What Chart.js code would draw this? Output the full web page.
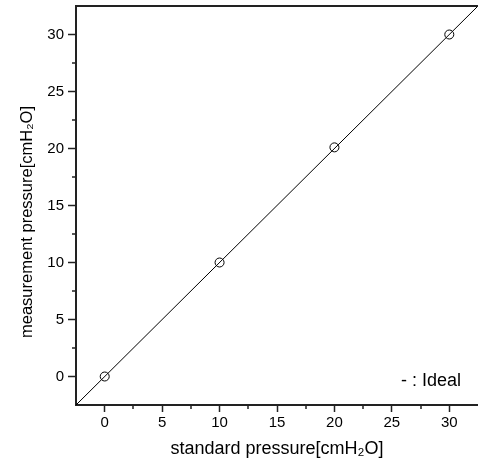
<!DOCTYPE html>
<html>
<head>
<meta charset="utf-8">
<script src="https://cdn.jsdelivr.net/npm/chart.js@4.4.1/dist/chart.umd.min.js"></script>
<style>
  html, body { margin: 0; padding: 0; background: #fff; }
  canvas { display: block; }
</style>
</head>
<body>
<canvas id="chart" width="478" height="462"></canvas>
<script>
// values
const standardPressure = [0, 10, 20, 30];
const measuredPressure = [0, 10, 20.1, 30];
const idealX = [-2.5, 32.5];
const idealY = [-2.5, 32.5];
const axisMin = -2.5;
const axisMax = 32.5;
const majorTicks = [0, 5, 10, 15, 20, 25, 30];
const minorTicks = [2.5, 7.5, 12.5, 17.5, 22.5, 27.5];
const legendText = "- : Ideal";
const yTitle = "measurement pressure[cmH₂O]";

const font = "'Liberation Sans', Arial, sans-serif";
const axisColor = "#222";

// minor ticks, top frame line, y title and the "- : Ideal" note
const extras = {
  id: "extras",
  afterDraw(chart) {
    let ctx = chart.ctx;
    let area = chart.chartArea;
    let x = chart.scales.x;
    let y = chart.scales.y;
    ctx.save();
    ctx.strokeStyle = axisColor;
    ctx.lineWidth = 1.5;
    ctx.beginPath();
    minorTicks.forEach(function (v) {
      let px = Math.round(x.getPixelForValue(v));
      ctx.moveTo(px, area.bottom);
      ctx.lineTo(px, area.bottom + 4);
      let py = Math.round(y.getPixelForValue(v));
      ctx.moveTo(area.left, py);
      ctx.lineTo(area.left - 4, py);
    });
    ctx.stroke();
    ctx.lineWidth = 2;
    ctx.beginPath();
    ctx.moveTo(area.left, area.top);
    ctx.lineTo(area.right, area.top);
    ctx.stroke();

    ctx.fillStyle = "#000";
    ctx.font = "18px " + font;
    ctx.textAlign = "right";
    ctx.textBaseline = "middle";
    ctx.fillText(legendText, area.right - 17, y.getPixelForValue(-0.4));

    ctx.translate(27, 222);
    ctx.rotate(-Math.PI / 2);
    ctx.font = "16.5px " + font;
    ctx.textAlign = "center";
    ctx.fillText(yTitle, 0, 0);
    ctx.restore();
  },
};

function setTicks(scale) {
  scale.ticks = majorTicks.map(function (v) { return { value: v }; });
}

new Chart(document.getElementById("chart"), {
  type: "scatter",
  data: {
    datasets: [
      {
        label: "Ideal",
        data: idealX.map(function (v, i) { return { x: v, y: idealY[i] }; }),
        showLine: true,
        borderColor: "#000",
        borderWidth: 1,
        pointRadius: 0,
        fill: false,
      },
      {
        label: "measured",
        data: standardPressure.map(function (v, i) { return { x: v, y: measuredPressure[i] }; }),
        showLine: false,
        pointStyle: "circle",
        pointRadius: 4.5,
        borderColor: "#000",
        borderWidth: 1,
        backgroundColor: "rgba(0,0,0,0)",
      },
    ],
  },
  options: {
    responsive: false,
    animation: false,
    layout: { autoPadding: false, padding: { top: 6, right: 0, left: 0, bottom: 0 } },
    plugins: {
      legend: { display: false },
      tooltip: { enabled: false },
    },
    scales: {
      x: {
        type: "linear",
        min: axisMin,
        max: axisMax,
        afterBuildTicks: setTicks,
        afterFit: function (scale) {
          scale.height = 57;
          scale.paddingLeft = 0;
          scale.paddingRight = 0;
        },
        border: { display: true, color: axisColor, width: 2 },
        grid: { drawOnChartArea: false, drawTicks: true, tickLength: 7, tickColor: axisColor, tickWidth: 1.5 },
        ticks: { color: "#000", font: { family: font, size: 15 }, padding: 2, maxRotation: 0 },
        title: {
          display: true,
          text: "standard pressure[cmH₂O]",
          color: "#000",
          font: { family: font, size: 18 },
          padding: { top: 0, bottom: 2 },
        },
      },
      y: {
        type: "linear",
        min: axisMin,
        max: axisMax,
        afterBuildTicks: setTicks,
        afterFit: function (scale) {
          scale.width = 76;
          scale.paddingTop = 0;
          scale.paddingBottom = 0;
        },
        border: { display: true, color: axisColor, width: 2 },
        grid: { drawOnChartArea: false, drawTicks: true, tickLength: 8, tickColor: axisColor, tickWidth: 1.5 },
        ticks: { color: "#000", font: { family: font, size: 15 }, padding: 4 },
        title: { display: false },
      },
    },
  },
  plugins: [extras],
});
</script>
</body>
</html>
